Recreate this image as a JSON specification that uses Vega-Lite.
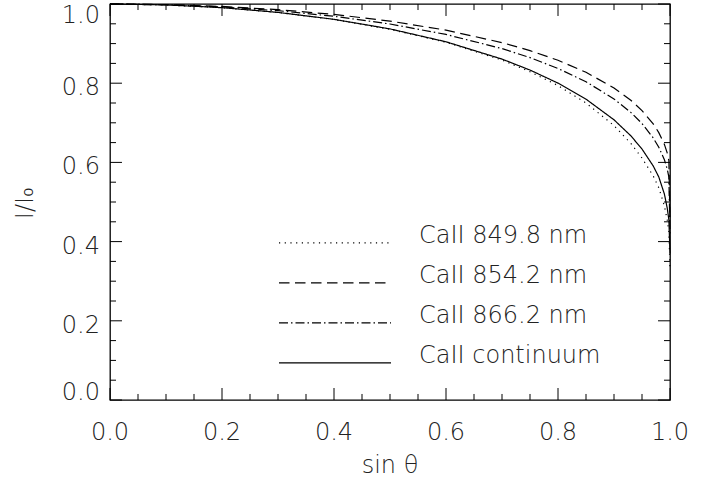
{
  "$schema": "https://vega.github.io/schema/vega-lite/v6.json",
  "width": 560,
  "height": 396,
  "autosize": "none",
  "padding": {"left": 110, "top": 4, "right": 47, "bottom": 79},
  "background": "white",
  "config": {
    "view": {"stroke": "#000", "strokeWidth": 1.3},
    "font": "DejaVu Sans",
    "text": {"font": "DejaVu Sans", "fontSize": 24, "fontWeight": 200, "fill": "#222"},
    "legend": {
      "orient": "none",
      "legendX": 168,
      "legendY": 219.3,
      "symbolType": "stroke",
      "symbolSize": 12544,
      "symbolStrokeColor": "#000",
      "symbolStrokeWidth": 1.2,
      "labelFont": "DejaVu Sans",
      "labelFontSize": 24,
      "labelFontWeight": 200,
      "labelColor": "#222",
      "labelOffset": 27,
      "labelLimit": 0,
      "labelBaseline": "alphabetic",
      "clipHeight": 39.3,
      "rowPadding": 0,
      "padding": 0
    }
  },
  "datasets": {
    "major": [{"t": 0}, {"t": 0.2}, {"t": 0.4}, {"t": 0.6}, {"t": 0.8}, {"t": 1}],
    "minor": [{"t": 0.05}, {"t": 0.1}, {"t": 0.15}, {"t": 0.25}, {"t": 0.3}, {"t": 0.35}, {"t": 0.45}, {"t": 0.5}, {"t": 0.55}, {"t": 0.65}, {"t": 0.7}, {"t": 0.75}, {"t": 0.85}, {"t": 0.9}, {"t": 0.95}],
    "curves": [
      {"s": 0, "I": 1, "line": "CaII 849.8 nm"},
      {"s": 0.1, "I": 0.9977, "line": "CaII 849.8 nm"},
      {"s": 0.2, "I": 0.9906, "line": "CaII 849.8 nm"},
      {"s": 0.3, "I": 0.9785, "line": "CaII 849.8 nm"},
      {"s": 0.4, "I": 0.9608, "line": "CaII 849.8 nm"},
      {"s": 0.5, "I": 0.9362, "line": "CaII 849.8 nm"},
      {"s": 0.6, "I": 0.9033, "line": "CaII 849.8 nm"},
      {"s": 0.7, "I": 0.8585, "line": "CaII 849.8 nm"},
      {"s": 0.75, "I": 0.829, "line": "CaII 849.8 nm"},
      {"s": 0.8, "I": 0.794, "line": "CaII 849.8 nm"},
      {"s": 0.85, "I": 0.75, "line": "CaII 849.8 nm"},
      {"s": 0.9, "I": 0.693, "line": "CaII 849.8 nm"},
      {"s": 0.93, "I": 0.648, "line": "CaII 849.8 nm"},
      {"s": 0.95, "I": 0.611, "line": "CaII 849.8 nm"},
      {"s": 0.97, "I": 0.566, "line": "CaII 849.8 nm"},
      {"s": 0.98, "I": 0.536, "line": "CaII 849.8 nm"},
      {"s": 0.99, "I": 0.49, "line": "CaII 849.8 nm"},
      {"s": 0.995, "I": 0.455, "line": "CaII 849.8 nm"},
      {"s": 0.998, "I": 0.425, "line": "CaII 849.8 nm"},
      {"s": 1, "I": 0.33, "line": "CaII 849.8 nm"},
      {"s": 0, "I": 1, "line": "CaII 854.2 nm"},
      {"s": 0.1, "I": 0.9985, "line": "CaII 854.2 nm"},
      {"s": 0.2, "I": 0.9938, "line": "CaII 854.2 nm"},
      {"s": 0.3, "I": 0.9857, "line": "CaII 854.2 nm"},
      {"s": 0.4, "I": 0.9737, "line": "CaII 854.2 nm"},
      {"s": 0.5, "I": 0.9569, "line": "CaII 854.2 nm"},
      {"s": 0.6, "I": 0.934, "line": "CaII 854.2 nm"},
      {"s": 0.7, "I": 0.9025, "line": "CaII 854.2 nm"},
      {"s": 0.75, "I": 0.8823, "line": "CaII 854.2 nm"},
      {"s": 0.8, "I": 0.8579, "line": "CaII 854.2 nm"},
      {"s": 0.85, "I": 0.8275, "line": "CaII 854.2 nm"},
      {"s": 0.9, "I": 0.788, "line": "CaII 854.2 nm"},
      {"s": 0.93, "I": 0.757, "line": "CaII 854.2 nm"},
      {"s": 0.95, "I": 0.7309, "line": "CaII 854.2 nm"},
      {"s": 0.97, "I": 0.6973, "line": "CaII 854.2 nm"},
      {"s": 0.98, "I": 0.6752, "line": "CaII 854.2 nm"},
      {"s": 0.99, "I": 0.6455, "line": "CaII 854.2 nm"},
      {"s": 0.995, "I": 0.6239, "line": "CaII 854.2 nm"},
      {"s": 0.998, "I": 0.6042, "line": "CaII 854.2 nm"},
      {"s": 1, "I": 0.45, "line": "CaII 854.2 nm"},
      {"s": 0, "I": 1, "line": "CaII 866.2 nm"},
      {"s": 0.1, "I": 0.9982, "line": "CaII 866.2 nm"},
      {"s": 0.2, "I": 0.9926, "line": "CaII 866.2 nm"},
      {"s": 0.3, "I": 0.9831, "line": "CaII 866.2 nm"},
      {"s": 0.4, "I": 0.969, "line": "CaII 866.2 nm"},
      {"s": 0.5, "I": 0.9495, "line": "CaII 866.2 nm"},
      {"s": 0.6, "I": 0.9231, "line": "CaII 866.2 nm"},
      {"s": 0.7, "I": 0.8874, "line": "CaII 866.2 nm"},
      {"s": 0.75, "I": 0.8646, "line": "CaII 866.2 nm"},
      {"s": 0.8, "I": 0.8373, "line": "CaII 866.2 nm"},
      {"s": 0.85, "I": 0.8037, "line": "CaII 866.2 nm"},
      {"s": 0.9, "I": 0.7602, "line": "CaII 866.2 nm"},
      {"s": 0.93, "I": 0.7263, "line": "CaII 866.2 nm"},
      {"s": 0.95, "I": 0.6981, "line": "CaII 866.2 nm"},
      {"s": 0.97, "I": 0.6619, "line": "CaII 866.2 nm"},
      {"s": 0.98, "I": 0.6383, "line": "CaII 866.2 nm"},
      {"s": 0.99, "I": 0.6066, "line": "CaII 866.2 nm"},
      {"s": 0.995, "I": 0.5836, "line": "CaII 866.2 nm"},
      {"s": 0.998, "I": 0.5628, "line": "CaII 866.2 nm"},
      {"s": 1, "I": 0.42, "line": "CaII 866.2 nm"},
      {"s": 0, "I": 1, "line": "CaII continuum"},
      {"s": 0.1, "I": 0.9977, "line": "CaII continuum"},
      {"s": 0.2, "I": 0.9908, "line": "CaII continuum"},
      {"s": 0.3, "I": 0.9788, "line": "CaII continuum"},
      {"s": 0.4, "I": 0.9613, "line": "CaII continuum"},
      {"s": 0.5, "I": 0.9371, "line": "CaII continuum"},
      {"s": 0.6, "I": 0.9046, "line": "CaII continuum"},
      {"s": 0.7, "I": 0.8609, "line": "CaII continuum"},
      {"s": 0.75, "I": 0.8332, "line": "CaII continuum"},
      {"s": 0.8, "I": 0.8002, "line": "CaII continuum"},
      {"s": 0.85, "I": 0.7597, "line": "CaII continuum"},
      {"s": 0.9, "I": 0.7076, "line": "CaII continuum"},
      {"s": 0.93, "I": 0.6673, "line": "CaII continuum"},
      {"s": 0.95, "I": 0.6338, "line": "CaII continuum"},
      {"s": 0.97, "I": 0.5911, "line": "CaII continuum"},
      {"s": 0.98, "I": 0.5632, "line": "CaII continuum"},
      {"s": 0.99, "I": 0.52, "line": "CaII continuum"},
      {"s": 0.995, "I": 0.485, "line": "CaII continuum"},
      {"s": 0.998, "I": 0.455, "line": "CaII continuum"},
      {"s": 1, "I": 0.37, "line": "CaII continuum"}
    ]
  },
  "layer": [
    {
      "data": {"name": "curves"},
      "mark": {"type": "line", "stroke": "#000", "clip": false},
      "encoding": {
        "x": {"field": "s", "type": "quantitative", "axis": null, "scale": {"domain": [0, 1], "nice": false, "zero": false}},
        "y": {"field": "I", "type": "quantitative", "axis": null, "scale": {"domain": [0, 1], "nice": false, "zero": false}},
        "strokeDash": {
          "field": "line", "type": "nominal",
          "scale": {
            "domain": ["CaII 849.8 nm", "CaII 854.2 nm", "CaII 866.2 nm", "CaII continuum"],
            "range": [[1.2, 4.5], [10.5, 5.5], [9, 3, 1.5, 3], [1, 0]]
          },
          "legend": {"title": null}
        },
        "strokeWidth": {
          "field": "line", "type": "nominal",
          "scale": {
            "domain": ["CaII 849.8 nm", "CaII 854.2 nm", "CaII 866.2 nm", "CaII continuum"],
            "range": [1.2, 1.2, 1.2, 2]
          },
          "legend": {"title": null}
        }
      }
    },
    {
      "data": {"name": "major"},
      "mark": {"type": "rule", "stroke": "#000", "strokeWidth": 1},
      "encoding": {
        "x": {"field": "t", "type": "quantitative", "axis": null, "scale": {"domain": [0, 1], "nice": false, "zero": false}},
        "y": {"datum": 0, "type": "quantitative", "axis": null, "scale": {"domain": [0, 1], "nice": false, "zero": false}},
        "y2": {"datum": 0.0303}
      }
    },
    {
      "data": {"name": "major"},
      "mark": {"type": "rule", "stroke": "#000", "strokeWidth": 1},
      "encoding": {
        "x": {"field": "t", "type": "quantitative", "axis": null, "scale": {"domain": [0, 1], "nice": false, "zero": false}},
        "y": {"datum": 1, "type": "quantitative", "axis": null, "scale": {"domain": [0, 1], "nice": false, "zero": false}},
        "y2": {"datum": 0.9697}
      }
    },
    {
      "data": {"name": "major"},
      "mark": {"type": "rule", "stroke": "#000", "strokeWidth": 1},
      "encoding": {
        "y": {"field": "t", "type": "quantitative", "axis": null, "scale": {"domain": [0, 1], "nice": false, "zero": false}},
        "x": {"datum": 0, "type": "quantitative", "axis": null, "scale": {"domain": [0, 1], "nice": false, "zero": false}},
        "x2": {"datum": 0.0214}
      }
    },
    {
      "data": {"name": "major"},
      "mark": {"type": "rule", "stroke": "#000", "strokeWidth": 1},
      "encoding": {
        "y": {"field": "t", "type": "quantitative", "axis": null, "scale": {"domain": [0, 1], "nice": false, "zero": false}},
        "x": {"datum": 1, "type": "quantitative", "axis": null, "scale": {"domain": [0, 1], "nice": false, "zero": false}},
        "x2": {"datum": 0.9786}
      }
    },
    {
      "data": {"name": "minor"},
      "mark": {"type": "rule", "stroke": "#000", "strokeWidth": 1},
      "encoding": {
        "x": {"field": "t", "type": "quantitative", "axis": null, "scale": {"domain": [0, 1], "nice": false, "zero": false}},
        "y": {"datum": 0, "type": "quantitative", "axis": null, "scale": {"domain": [0, 1], "nice": false, "zero": false}},
        "y2": {"datum": 0.0152}
      }
    },
    {
      "data": {"name": "minor"},
      "mark": {"type": "rule", "stroke": "#000", "strokeWidth": 1},
      "encoding": {
        "x": {"field": "t", "type": "quantitative", "axis": null, "scale": {"domain": [0, 1], "nice": false, "zero": false}},
        "y": {"datum": 1, "type": "quantitative", "axis": null, "scale": {"domain": [0, 1], "nice": false, "zero": false}},
        "y2": {"datum": 0.9848}
      }
    },
    {
      "data": {"name": "minor"},
      "mark": {"type": "rule", "stroke": "#000", "strokeWidth": 1},
      "encoding": {
        "y": {"field": "t", "type": "quantitative", "axis": null, "scale": {"domain": [0, 1], "nice": false, "zero": false}},
        "x": {"datum": 0, "type": "quantitative", "axis": null, "scale": {"domain": [0, 1], "nice": false, "zero": false}},
        "x2": {"datum": 0.0107}
      }
    },
    {
      "data": {"name": "minor"},
      "mark": {"type": "rule", "stroke": "#000", "strokeWidth": 1},
      "encoding": {
        "y": {"field": "t", "type": "quantitative", "axis": null, "scale": {"domain": [0, 1], "nice": false, "zero": false}},
        "x": {"datum": 1, "type": "quantitative", "axis": null, "scale": {"domain": [0, 1], "nice": false, "zero": false}},
        "x2": {"datum": 0.9893}
      }
    },
    {
      "data": {"name": "major"},
      "mark": {"type": "text", "align": "center", "baseline": "alphabetic", "dy": 40},
      "encoding": {
        "x": {"field": "t", "type": "quantitative", "axis": null, "scale": {"domain": [0, 1], "nice": false, "zero": false}},
        "y": {"datum": 0, "type": "quantitative", "axis": null, "scale": {"domain": [0, 1], "nice": false, "zero": false}},
        "text": {"field": "t", "type": "quantitative", "format": ".1f"}
      }
    },
    {
      "data": {"name": "major"},
      "transform": [{"filter": "datum.t == 0"}],
      "mark": {"type": "text", "align": "right", "baseline": "alphabetic", "dx": -10, "dy": 0},
      "encoding": {
        "y": {"field": "t", "type": "quantitative", "axis": null, "scale": {"domain": [0, 1], "nice": false, "zero": false}},
        "x": {"datum": 0, "type": "quantitative", "axis": null, "scale": {"domain": [0, 1], "nice": false, "zero": false}},
        "text": {"field": "t", "type": "quantitative", "format": ".1f"}
      }
    },
    {
      "data": {"name": "major"},
      "transform": [{"filter": "datum.t > 0 && datum.t < 1"}],
      "mark": {"type": "text", "align": "right", "baseline": "alphabetic", "dx": -10, "dy": 12},
      "encoding": {
        "y": {"field": "t", "type": "quantitative", "axis": null, "scale": {"domain": [0, 1], "nice": false, "zero": false}},
        "x": {"datum": 0, "type": "quantitative", "axis": null, "scale": {"domain": [0, 1], "nice": false, "zero": false}},
        "text": {"field": "t", "type": "quantitative", "format": ".1f"}
      }
    },
    {
      "data": {"name": "major"},
      "transform": [{"filter": "datum.t == 1"}],
      "mark": {"type": "text", "align": "right", "baseline": "alphabetic", "dx": -10, "dy": 19},
      "encoding": {
        "y": {"field": "t", "type": "quantitative", "axis": null, "scale": {"domain": [0, 1], "nice": false, "zero": false}},
        "x": {"datum": 0, "type": "quantitative", "axis": null, "scale": {"domain": [0, 1], "nice": false, "zero": false}},
        "text": {"field": "t", "type": "quantitative", "format": ".1f"}
      }
    },
    {
      "data": {"values": [{"title": "sin θ"}]},
      "mark": {"type": "text", "align": "center", "baseline": "alphabetic", "dy": 73},
      "encoding": {
        "x": {"datum": 0.5, "type": "quantitative", "axis": null, "scale": {"domain": [0, 1], "nice": false, "zero": false}},
        "y": {"datum": 0, "type": "quantitative", "axis": null, "scale": {"domain": [0, 1], "nice": false, "zero": false}},
        "text": {"field": "title", "type": "nominal"}
      }
    },
    {
      "data": {"values": [{"title": "I/I₀"}]},
      "mark": {"type": "text", "align": "center", "baseline": "alphabetic", "angle": 270, "dy": -77},
      "encoding": {
        "x": {"datum": 0, "type": "quantitative", "axis": null, "scale": {"domain": [0, 1], "nice": false, "zero": false}},
        "y": {"datum": 0.497, "type": "quantitative", "axis": null, "scale": {"domain": [0, 1], "nice": false, "zero": false}},
        "text": {"field": "title", "type": "nominal"}
      }
    }
  ]
}
